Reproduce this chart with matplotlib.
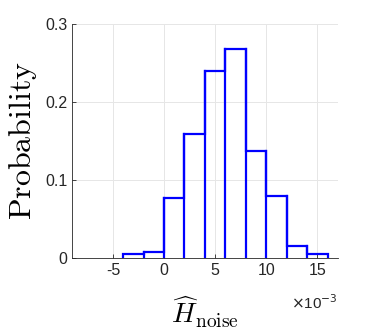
import numpy as np
import matplotlib
matplotlib.use("Agg")
import matplotlib.pyplot as plt

# bin edges (x10^-3) and probabilities
bin_edges = [-4, -2, 0, 2, 4, 6, 8, 10, 12, 14, 16]
probs = [0.005, 0.008, 0.077, 0.159, 0.240, 0.268, 0.137, 0.080, 0.015, 0.005]
xticks = [-5, 0, 5, 10, 15]
yticks = [0, 0.1, 0.2, 0.3]

plt.rcParams['font.family'] = ['Liberation Sans', 'DejaVu Sans']
plt.rcParams['mathtext.fontset'] = 'cm'

fig = plt.figure(figsize=(3.74, 3.32), dpi=100)
ax = fig.add_axes([0.1925, 0.2229, 0.711, 0.7048])

ax.stairs(probs, bin_edges, color='#0000ff', linewidth=1.6)
# vertical edges between bins
for e, a, b in zip(bin_edges[1:-1], probs[:-1], probs[1:]):
    ax.plot([e, e], [0, max(a, b)], color='#0000ff', linewidth=1.6)

ax.set_xlim(-9, 17)
ax.set_ylim(0, 0.3)
ax.set_xticks(xticks)
ax.set_yticks(yticks)
ax.set_xticklabels([str(t) for t in xticks])
ax.set_yticklabels(['0', '0.1', '0.2', '0.3'])
ax.tick_params(direction='in', labelsize=11.5, colors='#262626', length=3, width=0.6)
ax.grid(True, color='#e6e6e6', linewidth=0.7)
ax.set_axisbelow(True)
for s in ['top', 'right']:
    ax.spines[s].set_visible(False)
for s in ['left', 'bottom']:
    ax.spines[s].set_color('#262626')
    ax.spines[s].set_linewidth(0.6)

ax.set_ylabel(r'$\mathrm{Probability}$', fontsize=23, labelpad=4)
ax.set_xlabel(r'$\widehat{H}_{\mathrm{noise}}$', fontsize=20, labelpad=12)
ax.text(1.0, -0.15, r'$\times$10$^{-3}$', transform=ax.transAxes,
        fontsize=11, ha='right', va='top', color='#262626',
        math_fontfamily='dejavusans')

fig.savefig('out.png', dpi=100)
